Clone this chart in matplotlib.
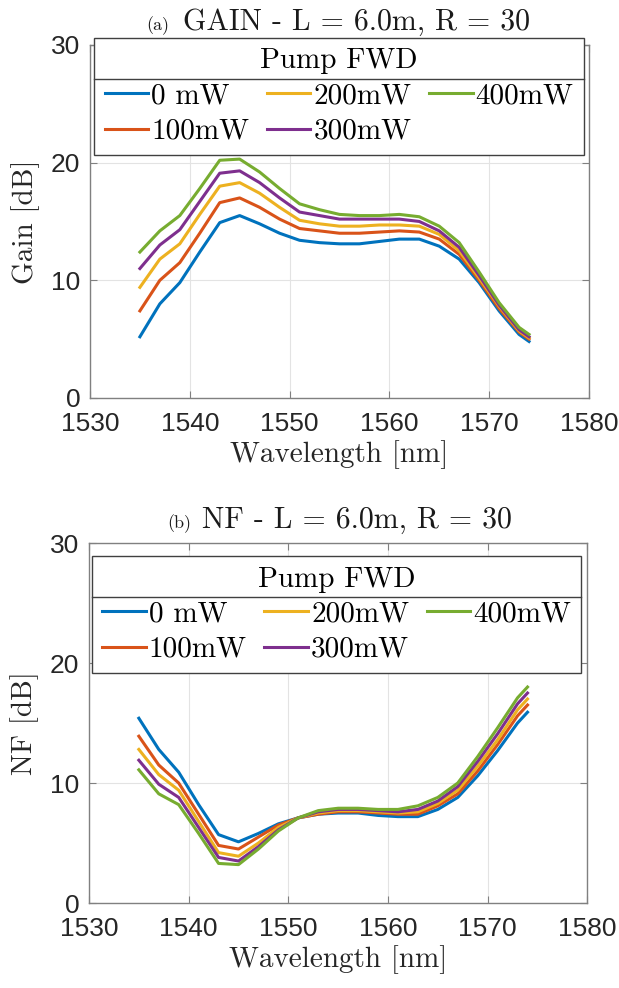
import numpy as np
import matplotlib
matplotlib.use("Agg")
import matplotlib.pyplot as plt
from matplotlib.lines import Line2D

# wavelength grid [nm]
wl = [1535, 1537, 1539, 1541, 1543, 1545, 1547, 1549, 1551, 1553, 1555,
      1557, 1559, 1561, 1563, 1565, 1567, 1569, 1571, 1573, 1574]

labels = ["0 mW", "100mW", "200mW", "300mW", "400mW"]
colors = ["#0072BD", "#D95319", "#EDB120", "#7E2F8E", "#77AC30"]

# gain [dB]
gain_0 = [5.2, 8.0, 9.8, 12.4, 14.9, 15.5, 14.8, 14.0, 13.4, 13.2, 13.1,
          13.1, 13.3, 13.5, 13.5, 12.9, 11.8, 9.8, 7.4, 5.4, 4.8]
gain_100 = [7.4, 10.0, 11.5, 14.0, 16.6, 17.0, 16.2, 15.2, 14.4, 14.2, 14.0,
            14.0, 14.1, 14.2, 14.1, 13.5, 12.2, 10.0, 7.6, 5.6, 5.0]
gain_200 = [9.4, 11.8, 13.1, 15.6, 18.0, 18.3, 17.4, 16.2, 15.1, 14.8, 14.6,
            14.6, 14.7, 14.7, 14.6, 13.9, 12.5, 10.2, 7.8, 5.7, 5.1]
gain_300 = [11.0, 13.0, 14.3, 16.7, 19.1, 19.3, 18.3, 17.0, 15.8, 15.5, 15.2,
            15.2, 15.2, 15.2, 15.0, 14.2, 12.8, 10.4, 7.9, 5.8, 5.2]
gain_400 = [12.4, 14.2, 15.5, 17.8, 20.2, 20.3, 19.2, 17.8, 16.5, 16.0, 15.6,
            15.5, 15.5, 15.6, 15.4, 14.6, 13.2, 10.7, 8.1, 6.0, 5.4]

# noise figure [dB]
nf_0 = [15.4, 12.8, 10.9, 8.2, 5.7, 5.1, 5.8, 6.6, 7.1, 7.4, 7.5,
        7.5, 7.3, 7.2, 7.2, 7.8, 8.8, 10.6, 12.7, 15.0, 15.9]
nf_100 = [13.9, 11.5, 10.0, 7.4, 4.8, 4.5, 5.5, 6.5, 7.1, 7.4, 7.6,
          7.6, 7.5, 7.4, 7.4, 8.1, 9.1, 11.0, 13.2, 15.6, 16.5]
nf_200 = [12.8, 10.7, 9.4, 6.8, 4.2, 3.9, 5.0, 6.3, 7.1, 7.5, 7.7,
          7.7, 7.6, 7.5, 7.6, 8.3, 9.4, 11.4, 13.6, 16.1, 17.0]
nf_300 = [11.9, 9.9, 8.8, 6.3, 3.8, 3.5, 4.7, 6.1, 7.1, 7.6, 7.8,
          7.8, 7.7, 7.6, 7.8, 8.5, 9.7, 11.8, 14.1, 16.6, 17.5]
nf_400 = [11.1, 9.1, 8.2, 5.8, 3.3, 3.2, 4.5, 6.0, 7.1, 7.7, 7.9,
          7.9, 7.8, 7.8, 8.1, 8.8, 10.0, 12.2, 14.6, 17.1, 18.0]

gains = [gain_0, gain_100, gain_200, gain_300, gain_400]
nfs = [nf_0, nf_100, nf_200, nf_300, nf_400]

serif = "cmr10"
plt.rcParams["font.family"] = ["Liberation Sans", "DejaVu Sans"]

fig = plt.figure(figsize=(6.19, 9.88), dpi=100)
ax1 = fig.add_axes([0.1454, 0.5972, 0.806, 0.3573])
ax2 = fig.add_axes([0.1438, 0.0860, 0.805, 0.3644])


def style_axes(ax, ylabel, tag, tag_x, title, title_x, leg_anchor):
    ax.set_xlim(1530, 1580)
    ax.set_ylim(0, 30)
    ax.set_xticks([1530, 1540, 1550, 1560, 1570, 1580])
    ax.set_yticks([0, 10, 20, 30])
    ax.grid(True, color="#e3e3e3", linewidth=0.8)
    ax.set_axisbelow(True)
    for s in ax.spines.values():
        s.set_color("#808080")
        s.set_linewidth(1.0)
    ax.tick_params(direction="in", top=True, right=True, length=5,
                   color="#808080", labelsize=19, labelcolor="#262626", pad=7)
    ax.tick_params(axis="x", pad=10)
    ax.set_xlabel("Wavelength [nm]", family=serif, fontsize=21, color="#262626", labelpad=3)
    ax.set_ylabel(ylabel, family=serif, fontsize=21, color="#262626", labelpad=8)
    ax.text(title_x, 1.042, title, transform=ax.transAxes, family=serif,
            fontsize=21.5, ha="center", va="baseline", color="#1a1a1a")
    ax.text(tag_x, 1.042, tag, transform=ax.transAxes, family=serif,
            fontsize=13, ha="right", va="baseline", color="#1a1a1a")
    leg = ax.legend(loc="upper center", bbox_to_anchor=leg_anchor,
                    ncol=3, borderaxespad=0, title="Pump FWD",
                    prop={"family": serif, "size": 21},
                    title_fontproperties={"family": serif, "size": 21},
                    fancybox=False, framealpha=1, edgecolor="#404040",
                    handlelength=1.5, handletextpad=0.1, columnspacing=0.6,
                    labelspacing=0.3, borderpad=0.35)
    leg.get_frame().set_linewidth(1.0)
    return leg


for vals, lab, c in zip(gains, labels, colors):
    ax1.plot(wl, vals, color=c, linewidth=2.2, label=lab)
for vals, lab, c in zip(nfs, labels, colors):
    ax2.plot(wl, vals, color=c, linewidth=2.2, label=lab)

leg1 = style_axes(ax1, "Gain [dB]", "(a)", 0.158, "GAIN - L = 6.0m, R = 30", 0.535,
                  (0.499, 1.02))
leg2 = style_axes(ax2, "NF [dB]", "(b)", 0.206, "NF - L = 6.0m, R = 30", 0.537,
                  (0.497, 0.964))

# separator line between legend title and entries
fig.canvas.draw()
inv = fig.transFigure.inverted()
for leg in (leg1, leg2):
    fb = leg.get_frame().get_window_extent()
    tb = leg.get_title().get_window_extent()
    rb = leg.get_texts()[0].get_window_extent()
    y = 0.5 * (tb.y0 + rb.y1)
    (x0, yf), = inv.transform([(fb.x0, y)])
    (x1, _), = inv.transform([(fb.x1, y)])
    fig.add_artist(Line2D([x0, x1], [yf, yf], transform=fig.transFigure,
                          color="#404040", linewidth=1.0, zorder=10))

fig.savefig("out.png", dpi=100)
